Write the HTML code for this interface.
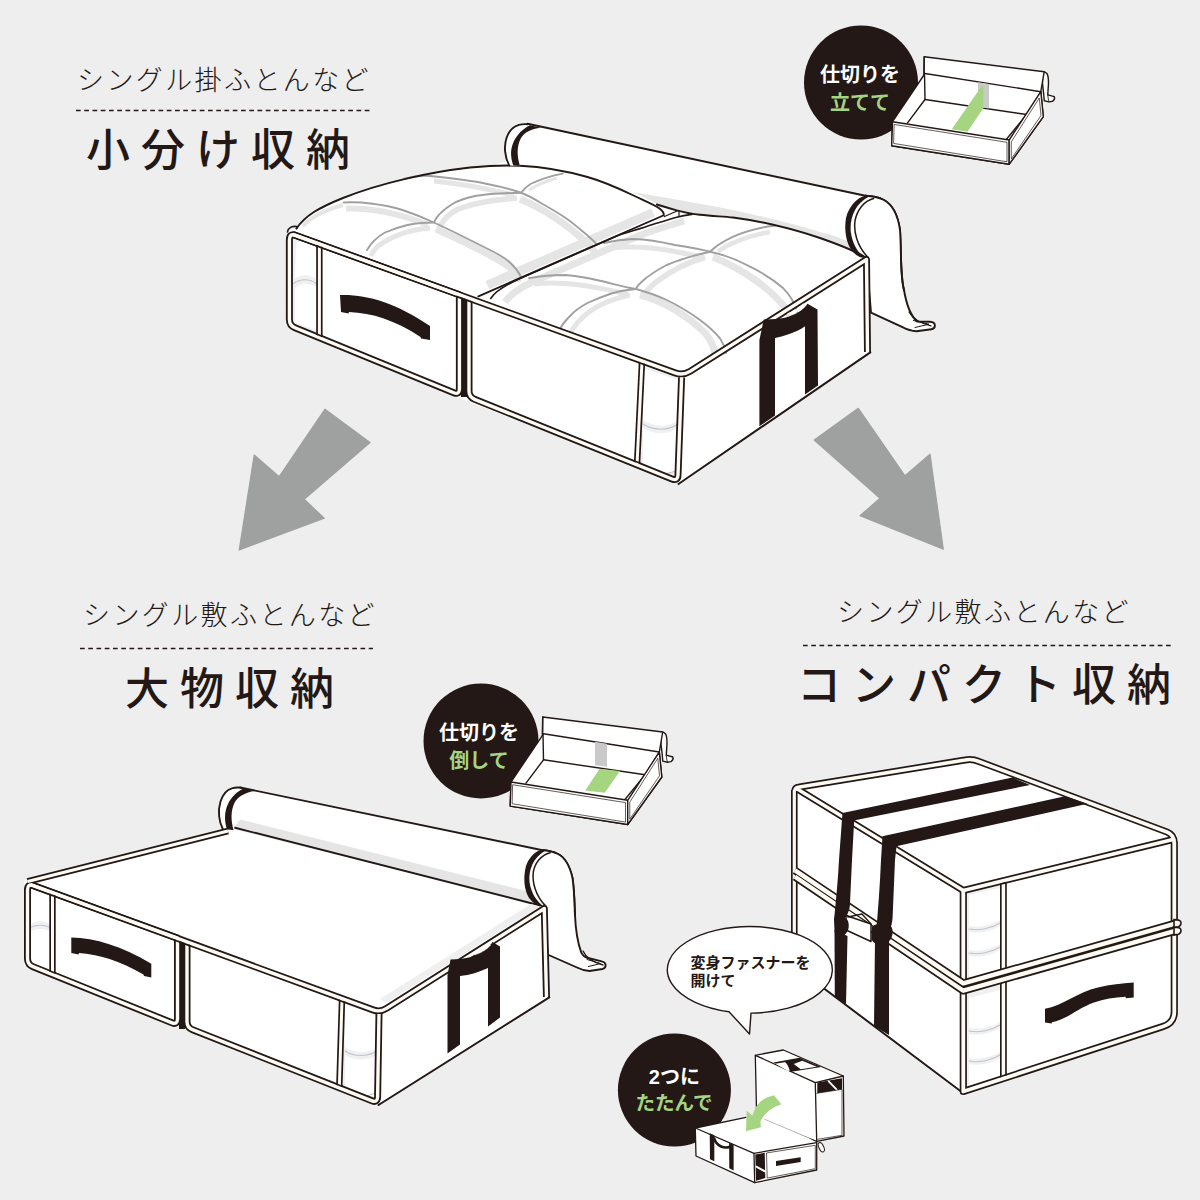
<!DOCTYPE html>
<html><head><meta charset="utf-8"><title>storage</title>
<style>html,body{margin:0;padding:0;overflow:hidden;background:#eeeeee;font-family:"Liberation Sans",sans-serif;}svg{display:block}</style>
</head><body>
<svg width="1200" height="1200" viewBox="0 0 1200 1200">
<rect width="1200" height="1200" fill="#eeeeee"/>
<text x="77" y="90" font-family="'Liberation Sans','Noto Sans CJK JP',sans-serif" font-size="27" font-weight="300" fill="#231815" letter-spacing="2.4">シングル掛ふとんなど</text>
<line x1="76" y1="110.5" x2="372" y2="110.5" stroke="#231815" stroke-width="1.6" stroke-dasharray="4.7 3.55"/>
<text x="86" y="166" font-family="'Liberation Sans','Noto Sans CJK JP',sans-serif" font-size="44" font-weight="500" fill="#231815" letter-spacing="11">小分け収納</text>
<text x="83" y="624.5" font-family="'Liberation Sans','Noto Sans CJK JP',sans-serif" font-size="27" font-weight="300" fill="#231815" letter-spacing="2.4">シングル敷ふとんなど</text>
<line x1="80" y1="648.5" x2="373" y2="648.5" stroke="#231815" stroke-width="1.6" stroke-dasharray="4.7 3.55"/>
<text x="125" y="704.5" font-family="'Liberation Sans','Noto Sans CJK JP',sans-serif" font-size="44" font-weight="500" fill="#231815" letter-spacing="11">大物収納</text>
<text x="837" y="622" font-family="'Liberation Sans','Noto Sans CJK JP',sans-serif" font-size="27" font-weight="300" fill="#231815" letter-spacing="2.4">シングル敷ふとんなど</text>
<line x1="803" y1="645.5" x2="1172" y2="645.5" stroke="#231815" stroke-width="1.6" stroke-dasharray="4.7 3.55"/>
<text x="797" y="700.5" font-family="'Liberation Sans','Noto Sans CJK JP',sans-serif" font-size="44" font-weight="500" fill="#231815" letter-spacing="11">コンパクト収納</text>
<path d="M325,409.2 L370,442.5 L304.2,499.2 L324.2,518.3 L239.2,550 L254.2,455 L279.2,476.7 Z" fill="#9fa0a0" stroke="#9fa0a0" stroke-width="1.2" stroke-linejoin="round"/>
<path d="M858.3,408.3 L814.2,440 L880,498.3 L860,515.8 L943.3,549.2 L930,454.2 L905,475.8 Z" fill="#9fa0a0" stroke="#9fa0a0" stroke-width="1.2" stroke-linejoin="round"/>
<path d="M865.4,195.8 C872,196 878,197 884,200 C893,205 898,216 900,230 C901.5,250 900,275 904,290 C906,302 910,315 917,321.5 L930,321.7 C936.5,322 936,328.5 931.4,329.2 L916.3,331.3 C910,331 905,328.5 902.5,327.2 L871,312.7 L866,255 Z" fill="#fff" stroke="#231815" stroke-width="1.9" stroke-linejoin="round" stroke-linecap="round" />
<path d="M909,312 C913,319 921,323.5 931,325.8" fill="none" stroke="#231815" stroke-width="1.3" stroke-linejoin="round" stroke-linecap="round" />
<path d="M913.5,320.5 L929,324.2 L915,327.5" fill="none" stroke="#231815" stroke-width="1.0" stroke-linejoin="round" stroke-linecap="round" />
<path d="M288,231 L300,225 L510,160 L868,256 L869.5,352.5 L681,484 L467,401 L464,400 L288,328 Z" fill="#fff"/>
<path d="M296.5,228.5 C305,216 318,208 343,198 C380,183 430,172 470,167.5 C490,165.5 505,165 520,165.75 C545,167 570,172 587.5,177 C605,182 620,189 632.5,195 C645,201 655,205 659.5,208.5 C663,211 664,213 663.8,215.25 L478.4,296.3 L462,300 Z" fill="#fff"/>
<path d="M490.75,298.5 C495,291 508,284 520,278.5 L618,235.5 L676.7,217.3 L700,214.8 C712,216 722,216.5 733,217.5 C760,221 790,228 820,238 C840,245 855,251 865,257 L684,374 L470,300 Z" fill="#fff"/>
<path d="M653,212.5 L487.4,285.2" fill="none" stroke="#e5e5e5" stroke-width="9" stroke-linecap="butt" stroke-linejoin="round"/>
<path d="M520,199 C542,208 565,223 586,242 C590,246 593,249 595,253" fill="none" stroke="#e5e5e5" stroke-width="7" stroke-linecap="butt" stroke-linejoin="round"/>
<path d="M517,198 C500,199.5 480,201 458,209 C448,214 442,222 439,228" fill="none" stroke="#e5e5e5" stroke-width="5.5" stroke-linecap="butt" stroke-linejoin="round"/>
<path d="M436,229 C465,242 490,254 508,266 C514,271 517,276 518,282" fill="none" stroke="#e5e5e5" stroke-width="7" stroke-linecap="butt" stroke-linejoin="round"/>
<path d="M430,228 C410,229.5 392,236 378,246 C374,250 372,253 371,256" fill="none" stroke="#e5e5e5" stroke-width="5" stroke-linecap="butt" stroke-linejoin="round"/>
<path d="M346,208.5 C372,208 400,213.5 428,225" fill="none" stroke="#e5e5e5" stroke-width="6" stroke-linecap="butt" stroke-linejoin="round"/>
<path d="M303,226 C312,216 325,210 343,205" fill="none" stroke="#e5e5e5" stroke-width="4" stroke-linecap="butt" stroke-linejoin="round"/>
<path d="M434,181 C458,183.5 488,189 514,195" fill="none" stroke="#e5e5e5" stroke-width="5" stroke-linecap="butt" stroke-linejoin="round"/>
<path d="M557,178 C546,181 537,185 529,190" fill="none" stroke="#e5e5e5" stroke-width="3" stroke-linecap="butt" stroke-linejoin="round"/>
<path d="M404,179 C415,176 425,175.5 430,176 C450,178 470,180 486,183.75 C500,186.5 512,189.5 521,192.75 C530,196 536,200 542.5,204 C550,208 558,213 565,217.5 C573,223 581,230 587.5,235.5 C591,238.5 594,241 596,243.5" fill="none" stroke="#a0a0a0" stroke-width="1.9" stroke-linecap="round" stroke-linejoin="round"/>
<path d="M562.8,173.6 C550,176 540,179.5 531,183.75 C527,186 524,189 521,192.75 C505,193 490,193.5 475,196 C466,198 458,200.5 452.5,204 C446,208 440,213 436.75,217.5 L433.75,222.5 C425,222.5 416,223 407.5,225 C399,227 392,229.5 385,232.5 C377,237 371,243 367,250" fill="none" stroke="#a0a0a0" stroke-width="1.9" stroke-linecap="round" stroke-linejoin="round"/>
<path d="M343.75,202.5 C353,202 363,202.5 372.5,203.75 C383,205 393,207 402.5,210 C413,213.5 424,218 433.75,222.5 C444,227 455,232.5 465,237.5 C474,242 482,246 490,250 C498,254 505,258 510,262.5 C515,267 518,271 520.5,276" fill="none" stroke="#a0a0a0" stroke-width="1.9" stroke-linecap="round" stroke-linejoin="round"/>
<path d="M684,221 C670,225 657,229 642,234.5 L530,283 C518,289 510,295 505,302" fill="none" stroke="#e5e5e5" stroke-width="7" stroke-linecap="butt" stroke-linejoin="round"/>
<path d="M713,257 C740,268 770,287 787,310 C791,316 793,322 794,328" fill="none" stroke="#e5e5e5" stroke-width="7" stroke-linecap="butt" stroke-linejoin="round"/>
<path d="M705,257.5 C690,261.5 672,270 656,282 C649,288 645,292 643,297" fill="none" stroke="#e5e5e5" stroke-width="5.5" stroke-linecap="butt" stroke-linejoin="round"/>
<path d="M640,295 C664,301 688,316 705,333 C711,340 714,347 715,354" fill="none" stroke="#e5e5e5" stroke-width="7" stroke-linecap="butt" stroke-linejoin="round"/>
<path d="M630,295 C615,298 600,304 589,312 C581,318 575,325 571,332" fill="none" stroke="#e5e5e5" stroke-width="5" stroke-linecap="butt" stroke-linejoin="round"/>
<path d="M608,248.5 C630,245.5 655,247.5 680,252.5 C690,254.5 698,256 704,257.5" fill="none" stroke="#e5e5e5" stroke-width="5" stroke-linecap="butt" stroke-linejoin="round"/>
<path d="M534,284 C560,281 590,285 628,294.5" fill="none" stroke="#e5e5e5" stroke-width="5" stroke-linecap="butt" stroke-linejoin="round"/>
<path d="M718,251.5 C732,241.5 750,235.5 770,232" fill="none" stroke="#e5e5e5" stroke-width="4.5" stroke-linecap="butt" stroke-linejoin="round"/>
<path d="M604,243 C615,240.5 625,239.3 633.3,239 C648,239.5 662,242 675,245 C688,247 700,249 710,251.7 C725,255 738,260 750,266.7 C763,273 774,280 783.3,288.3 C790,295 794,302 796.7,310 C799,316 800,322 800.5,327" fill="none" stroke="#a0a0a0" stroke-width="1.9" stroke-linecap="round" stroke-linejoin="round"/>
<path d="M783,225 C777,225.3 772,226 766.7,226.7 C754,229 743,232 733.3,236.7 C724,241 716,246 710,251.7 C695,255 680,259.5 666.7,265 C657,270 648,276 641.7,281.7 C639,284 637,286.5 635.8,289 C626,290 617,291.5 610,294 C601,297 594,300 587.5,303 C580,307 574,311.5 569.5,316.5 C565,321 562,325 560,329" fill="none" stroke="#a0a0a0" stroke-width="1.9" stroke-linecap="round" stroke-linejoin="round"/>
<path d="M529,278.25 C541,276 553,275 565,275 C577,276 588,278 598.75,280.5 C612,283.5 624,287 635.8,289 C647,292 657,295.5 666.7,300 C679,306 690,312.5 700,320 C708,326 715,332 720,338.3 C723,343 725,348 726,353" fill="none" stroke="#a0a0a0" stroke-width="1.9" stroke-linecap="round" stroke-linejoin="round"/>
<path d="M527,124 L866,195.8 C850,205 846,235 862,257 L865,257 C855,251 840,245 820,238 C790,228 760,221 733,217.5 C722,216.5 712,216 700,214.8 C692,214 685,212.5 676.7,210.3 L656.8,204.5 L659.5,208.5 C663,211 663,211 659.5,208.5 C655,205 645,201 632.5,195 C620,189 605,182 587.5,177 C570,172 545,167 520,165.75 L513,162 C505,158 504,130 515,125 Z" fill="#fff"/>
<path d="M632,192 C700,203 770,216 820,232 C845,238 858,246 866,255 L865,257 C855,251 840,245 820,238 C790,228 760,221 733,217.5 C722,216.5 712,216 700,214.8 C692,214 685,212.5 676.7,210.3 L656.8,204.5 C650,200 640,195 630,191 Z" fill="#e5e5e5"/>
<path d="M296.5,228.5 C305,216 318,208 343,198 C380,183 430,172 470,167.5 C490,165.5 505,165 520,165.75 C545,167 570,172 587.5,177 C605,182 620,189 632.5,195 C645,201 655,205 659.5,208.5 C663,211 664,213 663.8,215.25 L478.4,296.3" fill="none" stroke="#231815" stroke-width="1.9" stroke-linejoin="round" stroke-linecap="round" />
<path d="M656.8,204.5 C665,207 672,209 676.7,210.3 C685,212.5 692,214 700,214.8 C712,216 722,216.5 733,217.5 C760,221 790,228 820,238 C840,245 855,251 865,257" fill="none" stroke="#231815" stroke-width="1.9" stroke-linejoin="round" stroke-linecap="round" />
<path d="M691.8,214.4 C686,215 681,216 676.7,217.3 C668,220 660,222 653.3,224.3 C640,229 628,232 618,235.5 L520,278.5 C508,284 495,291 490.75,298.5" fill="none" stroke="#231815" stroke-width="1.6" stroke-linejoin="round" stroke-linecap="round" />
<path d="M677,211 L664.5,216.5" fill="none" stroke="#231815" stroke-width="1.3" stroke-linejoin="round" stroke-linecap="round" />
<path d="M679,211.5 L679,216.5" fill="none" stroke="#231815" stroke-width="1.2" stroke-linejoin="round" stroke-linecap="round" />
<path d="M527.5,123.8 L865.4,195.8" fill="none" stroke="#231815" stroke-width="1.9" stroke-linejoin="round" stroke-linecap="round" />
<path d="M526.7,124.2 C524,124 522,124 519,124.8 C513,126.5 509,131 506.7,137.5 C503.5,146 505,158 509.2,165.4 L520,166 Z" fill="#fff"/>
<path d="M527.5,124.2 C524,124 522,124 519,124.8 C513,126.5 509,131 506.7,137.5 C503.5,146 505,158 509.2,165.4" fill="none" stroke="#231815" stroke-width="1.9" stroke-linejoin="round" stroke-linecap="round" />
<path d="M530,125.2 C523,128.5 517.5,134.2 514,141 C510.5,148 510,156 513.3,165.6 L520,166 C517,157 516.5,147 520.7,138.6 C524.5,132 531,129 541,127.8 Z" fill="#231815"/>
<path d="M865.4,195.8 C872,196 878,197 884,200 C893,205 898,216 900,230 L900,262 L868,258 C856,250 846,238 846,220 C848,206 857,198 865.4,195.8 Z" fill="#fff"/>
<path d="M865.4,195.8 C872,196 878,197 884,200 C893,205 898,216 900,230 C901.5,250 900,275 904,290" fill="none" stroke="#231815" stroke-width="1.9" stroke-linejoin="round" stroke-linecap="round" />
<path d="M865.4,195.6 C857,198 849,206 846,218 C844,230 846,244 853,252 C856,255 858,256.5 861.3,257.5 L865,257.8 C859,254 852.5,245 850.8,232 C849.5,218 855,204 869,196.6 Z" fill="#231815"/>
<path d="M873.6,198.6 C864,201 857,210 855,221 C853.5,232 857,246 868,257.5" fill="none" stroke="#231815" stroke-width="1.5" stroke-linejoin="round" stroke-linecap="round" />
<path d="M292,237 L317,246 L317,336 L292,326 Z" fill="#eef0f2"/>
<path d="M296,243 C302,240 311,242 316,247 L316,279 C310,274 300,274 295,279 Z" fill="#fff"/>
<path d="M295,288 C300,283 310,283 316,287 L316,330 C308,327 300,324 295,322 Z" fill="#fff"/>
<path d="M293.5,283.5 C300,278.5 310,278.5 316,283.5" fill="none" stroke="#c2c5c8" stroke-width="1.1" stroke-linecap="round"/>
<path d="M644,366 L681,379 L676,479 L639,466 Z" fill="#eef0f2"/>
<path d="M643,368 L678,380 L678,420 C668,428 654,427 643,420 Z" fill="#fff"/>
<path d="M643,428 C654,435 668,435 678,428 L677,470 C668,474 654,474 643,468 Z" fill="#fff"/>
<path d="M643,424 C654,431 668,431 678,424" fill="none" stroke="#c2c5c8" stroke-width="1.1" stroke-linecap="round"/>
<path d="M643,470 C654,476 668,475 677,470" fill="none" stroke="#c2c5c8" stroke-width="1.1" stroke-linecap="round"/>
<rect x="461" y="296" width="6" height="101" fill="#231815"/>
<path d="M319.4,244 L319.4,337.5" fill="none" stroke="#231815" stroke-width="6.4" stroke-linejoin="round" stroke-linecap="butt"/>
<path d="M642,361.5 L637,465" fill="none" stroke="#231815" stroke-width="6.4" stroke-linejoin="round" stroke-linecap="butt"/>
<path d="M289.4,240 Q289.4,233.2 295,235.2 L459.4,294.8 L459.4,389 Q459.4,395 453.8,392.7 L295,327.8 Q289.4,325.5 289.4,319.5 Z" fill="none" stroke="#231815" stroke-width="7.0" stroke-linejoin="round" stroke-linecap="butt"/>
<path d="M681.6,377.3 L678,475 Q677.8,481.3 672,479 L474.6,399.3 Q469,397 469,391 L469,299" fill="none" stroke="#231815" stroke-width="7.0" stroke-linejoin="round" stroke-linecap="butt"/>
<path d="M292.5,234.3 L675,372.9 Q683,375.8 690,371.4 L866.5,259.5 L867.5,352" fill="none" stroke="#231815" stroke-width="7.0" stroke-linejoin="round" stroke-linecap="butt"/>
<path d="M319.4,244 L319.4,337.5" fill="none" stroke="#fdfbf3" stroke-width="3.0" stroke-linejoin="round" stroke-linecap="butt"/>
<path d="M642,361.5 L637,465" fill="none" stroke="#fdfbf3" stroke-width="3.0" stroke-linejoin="round" stroke-linecap="butt"/>
<path d="M289.4,240 Q289.4,233.2 295,235.2 L459.4,294.8 L459.4,389 Q459.4,395 453.8,392.7 L295,327.8 Q289.4,325.5 289.4,319.5 Z" fill="none" stroke="#fdfbf3" stroke-width="3.4" stroke-linejoin="round" stroke-linecap="butt"/>
<path d="M681.6,377.3 L678,475 Q677.8,481.3 672,479 L474.6,399.3 Q469,397 469,391 L469,299" fill="none" stroke="#fdfbf3" stroke-width="3.4" stroke-linejoin="round" stroke-linecap="butt"/>
<path d="M292.5,234.3 L675,372.9 Q683,375.8 690,371.4 L866.5,259.5 L867.5,352" fill="none" stroke="#fdfbf3" stroke-width="3.4" stroke-linejoin="round" stroke-linecap="butt"/>
<path d="M678.5,484 L870.3,352.4" fill="none" stroke="#231815" stroke-width="2.0" stroke-linejoin="round" stroke-linecap="round" />
<path d="M316.2,245.71 L322.6,248.03" stroke="#231815" stroke-width="1.8" fill="none"/>
<path d="M456.2,296.41 L472.2,302.21" stroke="#231815" stroke-width="1.8" fill="none"/>
<path d="M638.7,362.52 L645.1,364.83" stroke="#231815" stroke-width="1.8" fill="none"/>
<path d="M316.2,333.86 L322.6,336.47" stroke="#231815" stroke-width="1.7" fill="none"/>
<path d="M633.9,460.76 L640.3,463.33" stroke="#231815" stroke-width="1.7" fill="none"/>
<path d="M287.5,232 C288,228 292,226 297,226.5 L296.5,228.5" fill="none" stroke="#231815" stroke-width="1.6" stroke-linejoin="round" stroke-linecap="round" />
<path d="M340,295 C365,294 395,302 430,326 L430,340 L421,338.5 L420.5,337 C395,320 372,313 349,312 L348.5,313.5 L341,312 Z" fill="#231815"/>
<path d="M763.75,319.4 C772,319.5 778,319 783.75,318 C790,316.5 796,314 800,311.25 C803,309 805.5,306.5 807.5,303.75 L817.5,309.4 L818,385.5 L805,394.5 L805,326.25 C800,330 795,332 790,333.75 C785,335.5 780,337 775,338 L775,415.5 L759.4,426.25 L759.4,340 Z" fill="#231815"/>
<path d="M787,313.5 C793,311.5 799,308 803,303.5 L806.5,305 C803,309 797,312.5 790,315 Z" fill="#fff"/>
<path d="M541.3,850 C548,850.5 553,851.5 558,854 C566,858 570,867 572.5,878 C574.5,892 574.5,905 575,915 C575.5,928 577.5,942 581.2,952.4 C583,956 585,957.5 588,958 L601.8,961.4 C607,962.5 606.5,968 602.5,969 L589.4,971 C584,970.8 580,969 577,967.5 L547.5,954.5 L544,903 Z" fill="#fff" stroke="#231815" stroke-width="1.9" stroke-linejoin="round" stroke-linecap="round" />
<path d="M583,951 C586,958 594,962.5 603,965" fill="none" stroke="#231815" stroke-width="1.3" stroke-linejoin="round" stroke-linecap="round" />
<path d="M587,959.5 L600.5,963.5 L588.5,966.5" fill="none" stroke="#231815" stroke-width="1.0" stroke-linejoin="round" stroke-linecap="round" />
<path d="M24.5,880 L228,828 L545,906 L549,997 L377,1106 L186,1030 L182,1028 L24.5,966 Z" fill="#fff"/>
<path d="M240,787.5 L541.3,850 C525,860 522,890 540,906 L232.5,826.5 C224,826 219,818 219,808 C219,796 226,787 240,787.5 Z" fill="#fff"/>
<path d="M240,819.5 L536,893.5 L540,905.5 L234,827.5 Z" fill="#e5e5e5"/>
<path d="M240,787.5 L541.3,850" fill="none" stroke="#231815" stroke-width="1.9" stroke-linejoin="round" stroke-linecap="round" />
<path d="M234,827.5 L540,905.5" fill="none" stroke="#231815" stroke-width="1.9" stroke-linejoin="round" stroke-linecap="round" />
<path d="M240.5,787.6 C237,787.3 235,787.4 232,788.3 C226,790 222.5,795 220.5,801.5 C217.5,811 219,822 223,829.5 L234,830 Z" fill="#fff"/>
<path d="M241,787.7 C237,787.3 235,787.4 232,788.3 C226,790 222.5,795 220.5,801.5 C217.5,811 219,822 223,829.5" fill="none" stroke="#231815" stroke-width="1.9" stroke-linejoin="round" stroke-linecap="round" />
<path d="M243.5,788.6 C237,791.5 231.5,797 228,804 C224.5,811.5 224,820 227,829.6 L233.5,830 C231,821 230.5,811 234.5,802.8 C238,796.5 244.5,793 254,791 Z" fill="#231815"/>
<path d="M541.3,850 C548,850.5 553,851.5 558,854 C566,858 570,867 572.5,878 L574,910 L546,906 C532,898 524,886 524.5,872 C527,860 533,853 541.3,850 Z" fill="#fff"/>
<path d="M541.3,850 C548,850.5 553,851.5 558,854 C566,858 570,867 572.5,878 C574.5,892 574.5,905 575,915" fill="none" stroke="#231815" stroke-width="1.9" stroke-linejoin="round" stroke-linecap="round" />
<path d="M541.3,849.8 C534,852 529,858 526,866 C523,877 524,890 529,898 C532,902 536,905 540,906 L543.5,906.3 C537,902 531,893 529.5,882 C528.5,870 533,858 545,850.8 Z" fill="#231815"/>
<path d="M550.2,852.7 C541,855 535,863 533.3,872 C532,882 535.5,896 545.8,906" fill="none" stroke="#231815" stroke-width="1.5" stroke-linejoin="round" stroke-linecap="round" />
<path d="M386,1003 L540,906.5 L531,904 L380,999 Z" fill="#efefef"/>
<path d="M27,884 L53,893 L53,975 L27,965 Z" fill="#eef0f2"/>
<path d="M29,888 C35,886 46,888 51,893 L51,925 C45,920 35,920 29,925 Z" fill="#fff"/>
<path d="M29,933 C35,928 46,928 51,932 L51,970 C44,968 36,965 29,962 Z" fill="#fff"/>
<path d="M28,929 C35,924 46,924 52,929" fill="none" stroke="#c2c5c8" stroke-width="1.1" stroke-linecap="round"/>
<path d="M343,1003 L379,1013 L376,1102 L343,1089 Z" fill="#eef0f2"/>
<path d="M345,1005 L377,1014 L377,1048 C367,1054 354,1053 345,1047 Z" fill="#fff"/>
<path d="M345,1055 C354,1061 367,1061 377,1055 L376,1095 C367,1098 354,1096 345,1090 Z" fill="#fff"/>
<path d="M345,1051 C354,1057 367,1057 377,1051" fill="none" stroke="#c2c5c8" stroke-width="1.1" stroke-linecap="round"/>
<path d="M345,1092 C354,1097 367,1097 376,1093" fill="none" stroke="#c2c5c8" stroke-width="1.1" stroke-linecap="round"/>
<rect x="179" y="940" width="6" height="89" fill="#231815"/>
<path d="M27.5,881.5 L228,831" fill="none" stroke="#231815" stroke-width="6.6" stroke-linejoin="round" stroke-linecap="butt"/>
<path d="M52.5,892 L52.5,974.3" fill="none" stroke="#231815" stroke-width="6.4" stroke-linejoin="round" stroke-linecap="butt"/>
<path d="M342,999.5 L339.3,1087.8" fill="none" stroke="#231815" stroke-width="6.4" stroke-linejoin="round" stroke-linecap="butt"/>
<path d="M27.5,890 Q27.5,883.5 33,885.5 L177.5,938 L177.5,1019 Q177.5,1025 172,1022.8 L33,966.7 Q27.5,964.5 27.5,958.5 Z" fill="none" stroke="#231815" stroke-width="7.0" stroke-linejoin="round" stroke-linecap="butt"/>
<path d="M379.0,1014 L377.6,1097 Q377.5,1103 372,1100.8 L192.5,1029.7 Q187,1027.5 187,1021.5 L187,942.5" fill="none" stroke="#231815" stroke-width="7.0" stroke-linejoin="round" stroke-linecap="butt"/>
<path d="M30.5,884.6 L373,1009.9 Q380,1012.5 386.5,1008.4 L544.3,908.5 L546.5,997" fill="none" stroke="#231815" stroke-width="7.0" stroke-linejoin="round" stroke-linecap="butt"/>
<path d="M27.5,881.5 L228,831" fill="none" stroke="#fdfbf3" stroke-width="3.2" stroke-linejoin="round" stroke-linecap="butt"/>
<path d="M52.5,892 L52.5,974.3" fill="none" stroke="#fdfbf3" stroke-width="3.0" stroke-linejoin="round" stroke-linecap="butt"/>
<path d="M342,999.5 L339.3,1087.8" fill="none" stroke="#fdfbf3" stroke-width="3.0" stroke-linejoin="round" stroke-linecap="butt"/>
<path d="M27.5,890 Q27.5,883.5 33,885.5 L177.5,938 L177.5,1019 Q177.5,1025 172,1022.8 L33,966.7 Q27.5,964.5 27.5,958.5 Z" fill="none" stroke="#fdfbf3" stroke-width="3.4" stroke-linejoin="round" stroke-linecap="butt"/>
<path d="M379.0,1014 L377.6,1097 Q377.5,1103 372,1100.8 L192.5,1029.7 Q187,1027.5 187,1021.5 L187,942.5" fill="none" stroke="#fdfbf3" stroke-width="3.4" stroke-linejoin="round" stroke-linecap="butt"/>
<path d="M30.5,884.6 L373,1009.9 Q380,1012.5 386.5,1008.4 L544.3,908.5 L546.5,997" fill="none" stroke="#fdfbf3" stroke-width="3.4" stroke-linejoin="round" stroke-linecap="butt"/>
<path d="M378.5,1105 L549.3,997.4" fill="none" stroke="#231815" stroke-width="2.0" stroke-linejoin="round" stroke-linecap="round" />
<path d="M49.3,894.28 L55.7,896.62" stroke="#231815" stroke-width="1.8" fill="none"/>
<path d="M174.3,940.02 L190.2,945.84" stroke="#231815" stroke-width="1.8" fill="none"/>
<path d="M338.8,1000.22 L345.2,1002.57" stroke="#231815" stroke-width="1.8" fill="none"/>
<path d="M49.3,970.69 L55.7,973.27" stroke="#231815" stroke-width="1.7" fill="none"/>
<path d="M336.1,1083.99 L342.5,1086.52" stroke="#231815" stroke-width="1.7" fill="none"/>
<path d="M71.3,937.5 C95,938 122,946 151.3,963.7 L151.3,977.5 L144,976 L143.5,974.5 C120,961 98,954 79,953 L78.5,954.5 L71.3,953 Z" fill="#231815"/>
<path d="M450.5,959.5 C458,959.5 465,958.5 471,957 C478,955 484,951.5 488,948 C490,946 491.5,944 492.5,942 L500,946.5 L500,1017.5 L488,1026.5 L488,968 C479,972 470,975 460,976 L460,1044.5 L447.5,1053.5 L447.5,975 Z" fill="#231815"/>
<path d="M472,953 C478,951 484,947.5 488,943.5 L491,945 C487.5,949 482,952.5 475,955 Z" fill="#fff"/>
<path d="M791,786 L972,756 L1177,835 L1177,1022 L964,1096 L791,964 Z" fill="#fff"/>
<path d="M791.5,964 L962,1092.3" fill="none" stroke="#231815" stroke-width="2.0" stroke-linejoin="round" stroke-linecap="round" />
<path d="M967,893 L1001,885 L1001,1082 L967,1091 Z" fill="#eef0f2"/>
<path d="M969,895 L1000,888 L1000,920 C990,926 978,928 969,926 Z" fill="#fff"/>
<path d="M969,932 C978,934 990,932 1000,926 L1000,944 C990,950 978,952 969,950 Z" fill="#fff"/>
<path d="M969,956 C978,958 990,956 1000,950 L1000,972 L969,980 Z" fill="#fff"/>
<path d="M969,929 C978,931 990,929 1000,923" fill="none" stroke="#c2c5c8" stroke-width="1.1" stroke-linecap="round"/>
<path d="M969,953 C978,955 990,953 1000,947" fill="none" stroke="#c2c5c8" stroke-width="1.1" stroke-linecap="round"/>
<path d="M969,998 L1000,990 L1000,1022 C990,1028 978,1030 969,1028 Z" fill="#fff"/>
<path d="M969,1034 C978,1036 990,1034 1000,1028 L1000,1052 C990,1058 978,1060 969,1058 Z" fill="#fff"/>
<path d="M969,1064 C978,1066 990,1064 1000,1058 L1000,1081 L969,1089 Z" fill="#fff"/>
<path d="M969,1031 C978,1033 990,1031 1000,1025" fill="none" stroke="#c2c5c8" stroke-width="1.1" stroke-linecap="round"/>
<path d="M969,1061 C978,1063 990,1061 1000,1055" fill="none" stroke="#c2c5c8" stroke-width="1.1" stroke-linecap="round"/>
<path d="M1003.4,884 L1003.4,972.5" fill="none" stroke="#231815" stroke-width="6.8" stroke-linejoin="round" stroke-linecap="butt"/>
<path d="M1003.4,981 L1003.4,1078.6" fill="none" stroke="#231815" stroke-width="6.8" stroke-linejoin="round" stroke-linecap="butt"/>
<path d="M794.3,790 L794.3,963" fill="none" stroke="#231815" stroke-width="6.6" stroke-linejoin="round" stroke-linecap="butt"/>
<path d="M963.3,890.5 L963.3,1091.5 L1163,1026.5 Q1174.3,1023 1174.3,1012 L1174.3,842" fill="none" stroke="#231815" stroke-width="7.2" stroke-linejoin="round" stroke-linecap="butt"/>
<path d="M794.8,791 Q794.8,787.5 799.5,787 L965,760 Q972,758.5 979,761.5 L1167,832 Q1174.3,835 1174.3,843" fill="none" stroke="#231815" stroke-width="7.0" stroke-linejoin="round" stroke-linecap="butt"/>
<path d="M796.5,788.5 L963.3,890.5 L1173,839.5" fill="none" stroke="#231815" stroke-width="7.0" stroke-linejoin="round" stroke-linecap="butt"/>
<path d="M1003.4,884 L1003.4,972.5" fill="none" stroke="#fdfbf3" stroke-width="3.5" stroke-linejoin="round" stroke-linecap="butt"/>
<path d="M1003.4,981 L1003.4,1078.6" fill="none" stroke="#fdfbf3" stroke-width="3.5" stroke-linejoin="round" stroke-linecap="butt"/>
<path d="M794.3,790 L794.3,963" fill="none" stroke="#fdfbf3" stroke-width="3.2" stroke-linejoin="round" stroke-linecap="butt"/>
<path d="M963.3,890.5 L963.3,1091.5 L1163,1026.5 Q1174.3,1023 1174.3,1012 L1174.3,842" fill="none" stroke="#fdfbf3" stroke-width="3.8" stroke-linejoin="round" stroke-linecap="butt"/>
<path d="M794.8,791 Q794.8,787.5 799.5,787 L965,760 Q972,758.5 979,761.5 L1167,832 Q1174.3,835 1174.3,843" fill="none" stroke="#fdfbf3" stroke-width="3.6" stroke-linejoin="round" stroke-linecap="butt"/>
<path d="M796.5,788.5 L963.3,890.5 L1173,839.5" fill="none" stroke="#fdfbf3" stroke-width="3.6" stroke-linejoin="round" stroke-linecap="butt"/>
<path d="M1000.0,884.25 L1006.8,882.59" stroke="#231815" stroke-width="1.7" fill="none"/>
<path d="M1000.0,1076.71 L1006.8,1074.49" stroke="#231815" stroke-width="1.7" fill="none"/>
<path d="M795,870.4 L963.3,983.3 L1176,923.3" fill="none" stroke="#231815" stroke-width="7.8" stroke-linejoin="round" stroke-linecap="butt"/>
<path d="M795,876.8 L963.3,990.7 L1176,930.7" fill="none" stroke="#231815" stroke-width="7.8" stroke-linejoin="round" stroke-linecap="butt"/>
<path d="M795,870.4 L963.3,983.3 L1176,923.3" fill="none" stroke="#fdfbf3" stroke-width="4.4" stroke-linejoin="round" stroke-linecap="butt"/>
<path d="M795,876.8 L963.3,990.7 L1176,930.7" fill="none" stroke="#fdfbf3" stroke-width="4.4" stroke-linejoin="round" stroke-linecap="butt"/>
<path d="M1174,919.6 Q1181.5,919.5 1181,923.3 Q1180.5,927 1176,927.1 L1174,927.5 Z" fill="#fdfbf3" stroke="#231815" stroke-width="1.6"/>
<path d="M1174,927.2 Q1181.5,927 1181,930.8 Q1180.5,934.5 1176,934.6 L1174,935 Z" fill="#fdfbf3" stroke="#231815" stroke-width="1.6"/>
<path d="M842.5,813 L1012.5,777.5 L1030,785 L853.75,820.5 Z" fill="#231815"/>
<path d="M882.5,836.25 L1065,796.25 L1087.5,803.75 L896.25,846.25 Z" fill="#231815"/>
<path d="M842.5,812.5 L854.2,820 L852,860 L850,903 C850,912 846,918 838,926 L834,920 C836,900 838,880 839,860 Z" fill="#231815"/>
<path d="M882.5,836 L896.6,845.5 L895,860 L892.7,915 C892.5,925 890,932 884,938 L876,934 C878,910 880,885 881,860 Z" fill="#231815"/>
<path d="M846,915.5 L871,924 L871,941.5 L846,930 Z" fill="#fff" stroke="#231815" stroke-width="1.5" stroke-linejoin="round"/>
<path d="M848,917 L862,914 L871,924" fill="none" stroke="#231815" stroke-width="1.3" stroke-linejoin="round" stroke-linecap="round" />
<path d="M834,919 C838,915 846,916 848,921 C850,927 848,933 843,936 C839,938 835,936 834.5,931 Z" fill="#231815"/>
<path d="M872,927 C877,922 889,922 892,928 C894,934 891,941 886,944 C880,946 873,944 871.5,939 Z" fill="#231815"/>
<path d="M834.5,930 L847.5,936 L846,1004 L834.8,997.5 Z" fill="#231815"/>
<path d="M875,940 L889,938 L889,1035 L874,1026 Z" fill="#231815"/>
<path d="M1045,1008.7 C1062,1006 1078,992 1098,987.5 C1110,984.5 1122,983.5 1133.7,982.5 L1133.7,997.5 L1126,998.3 L1125.5,996.8 C1114,997.5 1104,999 1094,1002.5 C1078,1008 1066,1020 1052,1022.2 L1051.5,1023.5 L1045,1022.5 Z" fill="#231815"/>
<circle cx="861" cy="82.5" r="57" fill="#231815"/>
<text x="860" y="82" text-anchor="middle" font-family="'Liberation Sans','Noto Sans CJK JP',sans-serif" font-size="20" font-weight="700" fill="#fff">仕切りを</text>
<text x="860" y="109.5" text-anchor="middle" font-family="'Liberation Sans','Noto Sans CJK JP',sans-serif" font-size="20" font-weight="700" fill="#a6d582">立てて</text>
<circle cx="481" cy="741" r="57.5" fill="#231815"/>
<text x="479" y="740" text-anchor="middle" font-family="'Liberation Sans','Noto Sans CJK JP',sans-serif" font-size="20" font-weight="700" fill="#fff">仕切りを</text>
<text x="479" y="768" text-anchor="middle" font-family="'Liberation Sans','Noto Sans CJK JP',sans-serif" font-size="20" font-weight="700" fill="#a6d582">倒して</text>
<circle cx="674.4" cy="1090" r="56.5" fill="#231815"/>
<text x="674.4" y="1084" text-anchor="middle" font-family="'Liberation Sans','Noto Sans CJK JP',sans-serif" font-size="20" font-weight="700" fill="#fff">2つに</text>
<text x="674" y="1110" text-anchor="middle" font-family="'Liberation Sans','Noto Sans CJK JP',sans-serif" font-size="19.5" font-weight="700" fill="#a6d582">たたんで</text>
<path d="M729,1011.7 L749.5,1034 L751,1013.1 A82.5,43.3 0 1 0 729,1011.7 Z" fill="#fff" stroke="#231815" stroke-width="1.4" stroke-linejoin="round"/>
<text x="690.5" y="968" font-family="'Liberation Sans','Noto Sans CJK JP',sans-serif" font-size="15" font-weight="700" fill="#231815">変身ファスナーを</text>
<text x="690.5" y="985.5" font-family="'Liberation Sans','Noto Sans CJK JP',sans-serif" font-size="15" font-weight="700" fill="#231815">開けて</text>
<path d="M1042.6,71.6 C1045.0,71.8 1046.7,72.5 1047.5,74.5 C1048.6,78.0 1048.6,84.0 1048.2,88.0 C1048.0,91.0 1047.8,93.0 1047.8,94.9 L1054.3,96.7 C1055.0,98.5 1053.8,100.5 1052.5,101.3 L1049.0,101.9 L1044.3,100.8 L1043.5,92.0 C1042.3,86.0 1042.2,79.0 1042.6,73.3 Z" fill="#fff" stroke="#231815" stroke-width="1.4" stroke-linejoin="round" stroke-linecap="round" />
<path d="M1047.8,94.9 C1048.0,98.0 1048.5,100.0 1049.0,101.9" fill="none" stroke="#231815" stroke-width="0.9" stroke-linejoin="round" stroke-linecap="round" />
<path d="M892.5,121.7 L924.0,75.0 L924.2,56.7 L1044.2,71.7 L1040.8,91.7 L1043.3,116.7 L1009.2,164.2 L891.7,145.8 Z" fill="#fff" stroke="#231815" stroke-width="1.4" stroke-linejoin="round"/>
<path d="M925.0,73.5 L1040.8,91.7" fill="none" stroke="#231815" stroke-width="1.4" stroke-linejoin="round" stroke-linecap="round" />
<path d="M924.5,74.0 L925.0,99.5" fill="none" stroke="#231815" stroke-width="1.4" stroke-linejoin="round" stroke-linecap="round" />
<path d="M925.0,99.5 L1026.7,114.5" fill="none" stroke="#231815" stroke-width="1.4" stroke-linejoin="round" stroke-linecap="round" />
<path d="M925.0,99.5 L907.5,122.8" fill="none" stroke="#231815" stroke-width="1.4" stroke-linejoin="round" stroke-linecap="round" />
<path d="M1040.8,92.0 L1026.7,114.5 L1005.0,141.0" fill="none" stroke="#231815" stroke-width="1.4" stroke-linejoin="round" stroke-linecap="round" />
<path d="M978.0,82.3 L989.0,84.0 L989.0,108.5 L978.0,107.0 Z" fill="#c9c9c9"/>
<path d="M951.7,129.2 L980.0,88.5 L983.3,85.5 L983.3,108.3 L967.5,131.7 Z" fill="#a6d582"/>
<path d="M892.5,121.7 L1009.2,140.0 L1009.2,164.2 L891.7,145.8 Z" fill="#fff" stroke="#231815" stroke-width="1.4" stroke-linejoin="round"/>
<path d="M894.5,124.5 L1007.0,142.3 L1007.0,161.8 L894.0,143.5 Z" fill="none" stroke="#231815" stroke-width="0.7" stroke-linejoin="round" stroke-linecap="round" />
<path d="M1009.2,140.0 L1040.8,91.7 L1043.3,116.7 L1009.2,164.2 Z" fill="#fff" stroke="#231815" stroke-width="1.4" stroke-linejoin="round"/>
<path d="M1011.5,141.5 L1039.3,98.0 L1041.0,115.5 L1011.5,158.5 Z" fill="none" stroke="#231815" stroke-width="0.7" stroke-linejoin="round" stroke-linecap="round" />
<path d="M924.2,56.7 L924.0,75.0" fill="none" stroke="#231815" stroke-width="1.4" stroke-linejoin="round" stroke-linecap="round" />
<path d="M661.1,731.9 C663.5,732.1 665.2,732.8 666.0,734.8 C667.1,738.3 667.1,744.3 666.7,748.3 C666.5,751.3 666.3,753.3 666.3,755.2 L672.8,757.0 C673.5,758.8 672.3,760.8 671.0,761.6 L667.5,762.2 L662.8,761.1 L662.0,752.3 C660.8,746.3 660.7,739.3 661.1,733.6 Z" fill="#fff" stroke="#231815" stroke-width="1.4" stroke-linejoin="round" stroke-linecap="round" />
<path d="M666.3,755.2 C666.5,758.3 667.0,760.3 667.5,762.2" fill="none" stroke="#231815" stroke-width="0.9" stroke-linejoin="round" stroke-linecap="round" />
<path d="M511.0,782.0 L542.5,735.3 L542.7,717.0 L662.7,732.0 L659.3,752.0 L661.8,777.0 L627.7,824.5 L510.2,806.1 Z" fill="#fff" stroke="#231815" stroke-width="1.4" stroke-linejoin="round"/>
<path d="M543.5,733.8 L659.3,752.0" fill="none" stroke="#231815" stroke-width="1.4" stroke-linejoin="round" stroke-linecap="round" />
<path d="M543.0,734.3 L543.5,759.8" fill="none" stroke="#231815" stroke-width="1.4" stroke-linejoin="round" stroke-linecap="round" />
<path d="M543.5,759.8 L645.2,774.8" fill="none" stroke="#231815" stroke-width="1.4" stroke-linejoin="round" stroke-linecap="round" />
<path d="M543.5,759.8 L526.0,783.1" fill="none" stroke="#231815" stroke-width="1.4" stroke-linejoin="round" stroke-linecap="round" />
<path d="M659.3,752.3 L645.2,774.8 L623.5,801.3" fill="none" stroke="#231815" stroke-width="1.4" stroke-linejoin="round" stroke-linecap="round" />
<path d="M595.0,741.8 L607.0,743.8 L607.0,766.8 L595.0,765.3 Z" fill="#c9c9c9"/>
<path d="M599.5,768.8 L620.0,771.1 L604.8,792.8 L585.3,790.6 Z" fill="#a6d582"/>
<path d="M511.0,782.0 L627.7,800.3 L627.7,824.5 L510.2,806.1 Z" fill="#fff" stroke="#231815" stroke-width="1.4" stroke-linejoin="round"/>
<path d="M513.0,784.8 L625.5,802.6 L625.5,822.1 L512.5,803.8 Z" fill="none" stroke="#231815" stroke-width="0.7" stroke-linejoin="round" stroke-linecap="round" />
<path d="M627.7,800.3 L659.3,752.0 L661.8,777.0 L627.7,824.5 Z" fill="#fff" stroke="#231815" stroke-width="1.4" stroke-linejoin="round"/>
<path d="M630.0,801.8 L657.8,758.3 L659.5,775.8 L630.0,818.8 Z" fill="none" stroke="#231815" stroke-width="0.7" stroke-linejoin="round" stroke-linecap="round" />
<path d="M542.7,717.0 L542.5,735.3" fill="none" stroke="#231815" stroke-width="1.4" stroke-linejoin="round" stroke-linecap="round" />
<path d="M755.3,1055.3 L783.3,1050.0 L843.3,1076.0 L844.0,1136.0 L816.7,1141.3 L756.7,1118.7 Z" fill="#fff" stroke="#231815" stroke-width="1.3" stroke-linejoin="round"/>
<path d="M755.3,1055.3 L815.3,1082.7 L843.3,1076.0" fill="none" stroke="#231815" stroke-width="1.3" stroke-linejoin="round" stroke-linecap="round" />
<path d="M815.3,1082.7 L816.7,1141.3" fill="none" stroke="#231815" stroke-width="1.3" stroke-linejoin="round" stroke-linecap="round" />
<path d="M773.3,1062.4 L799.6,1057.7 L821.3,1067.1 L791.3,1071.7 Z" fill="#231815"/>
<path d="M793.7,1064.0 L802.3,1060.8 L816.7,1066.7 L800.7,1069.3 Z" fill="#fff"/>
<path d="M775.3,1063.7 L786.0,1062.0 L790.0,1070.4 L788.0,1070.9 Z" fill="#fff"/>
<path d="M786.3,1062.0 L789.7,1064.7 L791.1,1070.9" fill="none" stroke="#231815" stroke-width="2.2" stroke-linejoin="round" stroke-linecap="round" />
<path d="M817.3,1082.4 L842.0,1078.3 L842.0,1089.3 L817.3,1093.3 Z" fill="#231815"/>
<path d="M828.7,1081.3 L836.7,1089.6" fill="none" stroke="#fff" stroke-width="1.8" stroke-linejoin="round" stroke-linecap="round" />
<path d="M816.9,1093.3 L842.0,1089.3 L842.0,1135.3 L817.6,1139.3" fill="none" stroke="#231815" stroke-width="0.7" stroke-linejoin="round" stroke-linecap="round" />
<path d="M695.3,1128.0 L746.0,1117.3 L764.7,1119.3 L807.3,1137.3 L816.7,1142.7 L816.7,1170.0 L754.7,1182.7 L696.0,1156.0 Z" fill="#fff"/>
<path d="M746.0,1117.3 L695.3,1128.0 L696.0,1156.0 L754.7,1182.7 L816.7,1170.0 L816.7,1142.7" fill="none" stroke="#231815" stroke-width="1.3" stroke-linejoin="round" stroke-linecap="round" />
<path d="M695.3,1128.0 L754.0,1153.3 L816.7,1142.7" fill="none" stroke="#231815" stroke-width="1.3" stroke-linejoin="round" stroke-linecap="round" />
<path d="M754.0,1153.3 L754.7,1182.7" fill="none" stroke="#231815" stroke-width="1.3" stroke-linejoin="round" stroke-linecap="round" />
<path d="M764.7,1119.3 L807.3,1137.3" fill="none" stroke="#999" stroke-width="0.7" stroke-linejoin="round" stroke-linecap="round" />
<path d="M709.7,1133.3 L714.3,1135.3 L714.3,1161.3 L710.0,1159.3 Z" fill="#231815"/>
<path d="M729.1,1142.7 L733.6,1144.7 L733.6,1170.4 L729.3,1168.3 Z" fill="#231815"/>
<path d="M714.3,1138.7 C716.7,1146.7 724.7,1148.7 730.0,1146.7" fill="none" stroke="#231815" stroke-width="2.6" stroke-linejoin="round" stroke-linecap="round" />
<path d="M755.3,1154.4 L764.7,1152.8 L765.3,1178.0 L756.0,1180.7 Z" fill="#231815"/>
<path d="M756.3,1166.7 L764.9,1171.3" fill="none" stroke="#fff" stroke-width="2.0" stroke-linejoin="round" stroke-linecap="round" />
<path d="M766.9,1152.9 L815.3,1145.3 L815.3,1168.7 L767.6,1178.0 Z" fill="none" stroke="#231815" stroke-width="0.7" stroke-linejoin="round" stroke-linecap="round" />
<path d="M776.0,1161.1 L800.7,1157.3 L800.7,1162.0 L776.0,1166.0 Z" fill="#231815"/>
<ellipse cx="821.3" cy="1147.3" rx="2.4" ry="5" transform="rotate(-25 821.3 1147.3)" fill="#fff" stroke="#231815" stroke-width="1"/>
<path d="M774.0,1095.3 Q756.7,1098.7 752.4,1115.7 L746.7,1110.7 L746.0,1131.3 L760.9,1127.3 L760.4,1121.6 Q766.0,1109.3 781.3,1104.3 Z" fill="#a6d582"/>
</svg>
</body></html>
